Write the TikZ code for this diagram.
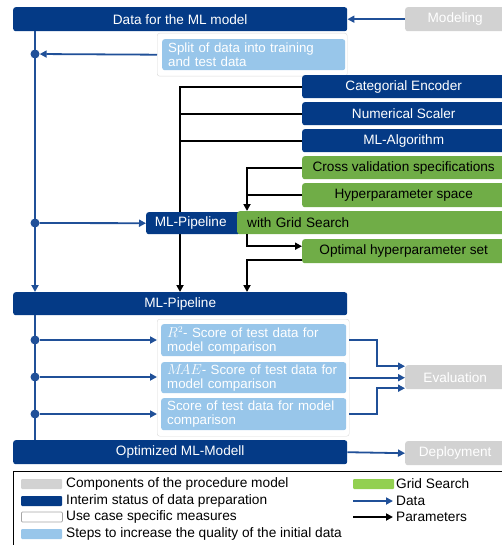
\documentclass[tikz,border=0pt]{standalone}
\usepackage{fontspec}
\setmainfont{Liberation Sans}
\usetikzlibrary{arrows.meta}
\definecolor{darkblue}{RGB}{4,58,134}
\definecolor{datablue}{RGB}{32,80,152}
\definecolor{procgrey}{RGB}{210,210,210}
\definecolor{gridgreen}{RGB}{112,173,71}
\definecolor{legendgreen}{RGB}{146,208,80}
\definecolor{lightblue}{RGB}{152,198,234}
\tikzset{
  box/.style={rounded corners=2.5pt, anchor=north west, inner sep=0pt, font=\fontsize{13.6}{15}\selectfont},
  darkbox/.style={box, fill=darkblue, text=white},
  greybox/.style={box, fill=procgrey, text=white},
  greenbox/.style={box, fill=gridgreen, text=black},
  casebox/.style={box, draw=black!15, fill=white},
  qualitybox/.style={box, fill=lightblue, text=white, align=left, inner xsep=6pt, font=\fontsize{13.3}{14}\selectfont},
  data/.style={draw=datablue, line width=1.8pt, -{Triangle[length=7pt,width=7pt]}},
  dataline/.style={draw=datablue, line width=1.8pt},
  param/.style={draw=black, line width=1.8pt, -{Triangle[length=7pt,width=7pt]}},
  paramline/.style={draw=black, line width=1.8pt},
  dot/.style={circle, fill=datablue, inner sep=0pt, minimum size=9pt},
  patch/.style={rounded corners=1pt, minimum width=41pt, minimum height=10pt, inner sep=0pt, anchor=west},
  legtext/.style={anchor=west, inner sep=0pt, font=\fontsize{13.7}{15}\selectfont}
}
\begin{document}
\begin{tikzpicture}[x=1pt,y=-1pt]
\useasboundingbox (0,0) rectangle (502,545);
% boxes of the procedure
\node[darkbox, minimum width=334pt, minimum height=24pt] (data) at (13,7) {Data for the ML model};
\node[greybox, minimum width=100pt, minimum height=24pt] (modeling) at (405,7) {Modeling};
\node[casebox, minimum width=190pt, minimum height=43pt] (splitc) at (157,33) {};
\node[qualitybox, text width=171pt, minimum height=31pt] (split) at (162,39) {Split of data into training\\and test data};
\node[darkbox, minimum width=203pt, minimum height=23pt] (enc) at (302,75) {Categorial Encoder};
\node[darkbox, minimum width=203pt, minimum height=23pt] (scaler) at (302,102) {Numerical Scaler};
\node[darkbox, minimum width=203pt, minimum height=23pt] (algo) at (302,129) {ML-Algorithm};
\node[greenbox, minimum width=203pt, minimum height=23pt] (cv) at (302,156) {Cross validation specifications};
\node[greenbox, minimum width=203pt, minimum height=24pt] (hyper) at (302,183) {Hyperparameter space};
\node[greenbox, minimum width=203pt, minimum height=24pt] (opt) at (302,239) {Optimal hyperparameter set};
\node[darkbox, minimum width=334pt, minimum height=23pt] (pipe) at (13,292) {ML-Pipeline};
\coordinate (bus) at (180,87);
\coordinate (gsx) at (247,250);
% parameters into the pipeline
\draw[param] (enc.west) -| (bus |- pipe.north);
\draw[paramline] (scaler.west) -- (scaler.west -| bus);
\draw[paramline] (algo.west) -- (algo.west -| bus);
\node[darkbox, minimum width=94pt, minimum height=22pt] (spipe) at (146,212) {ML-Pipeline\hspace*{5pt}};
\node[greenbox, minimum width=270pt, minimum height=23pt, align=left, text width=260pt, inner xsep=10pt] (gs) at (237,211) {with Grid Search};
\draw[param] (cv.west) -| (gsx |- gs.north);
\draw[paramline] (hyper.west) -- (hyper.west -| gsx);
\draw[param] (gsx |- gs.south) |- ([yshift=5pt]opt.west);
\draw[param] ([yshift=-9pt]opt.west) -| (gsx |- pipe.north);
% evaluation
\node[casebox, minimum width=192pt, minimum height=117pt] (evalc) at (157,319) {};
\node[qualitybox, text width=173pt, minimum height=32pt] (r2) at (161,324) {$R^2$- Score of test data for\\model comparison};
\node[qualitybox, text width=173pt, minimum height=31pt] (mae) at (161,362) {$M\!AE$- Score of test data for\\model comparison};
\node[qualitybox, text width=173pt, minimum height=32pt] (score) at (161,398) {Score of test data for model\\comparison};
\node[greybox, minimum width=100pt, minimum height=24pt] (eval) at (405,365) {Evaluation};
\node[darkbox, minimum width=334pt, minimum height=24pt] (optm) at (13,440) {Optimized ML-Modell};
\node[greybox, minimum width=100pt, minimum height=24pt] (deploy) at (405,441) {Deployment};
\coordinate (evx) at (377,377);
\coordinate (evtop) at ([yshift=11pt]eval.west);
\coordinate (evbot) at ([yshift=-11pt]eval.west);
% data flow
\node[dot] (dot1) at (35,54) {};
\node[dot] (dot2) at (35,223) {};
\node[dot] (dot3) at (35,340) {};
\node[dot] (dot4) at (35,377) {};
\node[dot] (dot5) at (35,414) {};
\draw[data] (modeling.west) -- (data.east);
\draw[data] (dot1 |- data.south) -- (dot1 |- pipe.north);
\draw[dataline] (dot1 |- pipe.south) -- (dot1 |- optm.north);
\draw[data] (splitc.west) -- (dot1);
\draw[data] (dot2) -- (spipe.west);
\draw[data] (dot3) -- (evalc.west |- dot3);
\draw[data] (dot4) -- (evalc.west |- dot4);
\draw[data] (dot5) -- (evalc.west |- dot5);
\draw[data] (evalc.east |- r2.east) -| (evx |- evtop) -- (evtop);
\draw[data] (evalc.east |- mae.east) -- (eval.west |- mae.east);
\draw[data] (evalc.east |- score.east) -| (evx |- evbot) -- (evbot);
\draw[data] (optm.east) -- (deploy.west);
% legend
\node[draw=black, line width=1.4pt, anchor=north west, minimum width=500pt, minimum height=80pt] (legend) at (13,471) {};
\node[patch, fill=procgrey] (lg1) at (21,484) {};
\node[patch, fill=darkblue] (lg2) at (21,501) {};
\node[patch, draw=black!35, line width=0.8pt, fill=white] (lg3) at (21,517) {};
\node[patch, fill=lightblue] (lg4) at (21,534) {};
\node[legtext] (lt1) at (66,484) {Components of the procedure model};
\node[legtext] (lt2) at (66,501) {Interim status of data preparation};
\node[legtext] (lt3) at (66,517) {Use case specific measures};
\node[legtext] (lt4) at (66,534) {Steps to increase the quality of the initial data};
\node[patch, fill=legendgreen] (lg5) at (353,484) {};
\coordinate (la1) at (353,501);
\coordinate (la1e) at (393,501);
\coordinate (la2) at (353,517);
\coordinate (la2e) at (393,517);
\node[legtext] (lt5) at (396,484) {Grid Search};
\node[legtext] (lt6) at (396,501) {Data};
\node[legtext] (lt7) at (396,517) {Parameters};
\draw[data] (la1) -- (la1e);
\draw[param] (la2) -- (la2e);
\end{tikzpicture}
\end{document}
